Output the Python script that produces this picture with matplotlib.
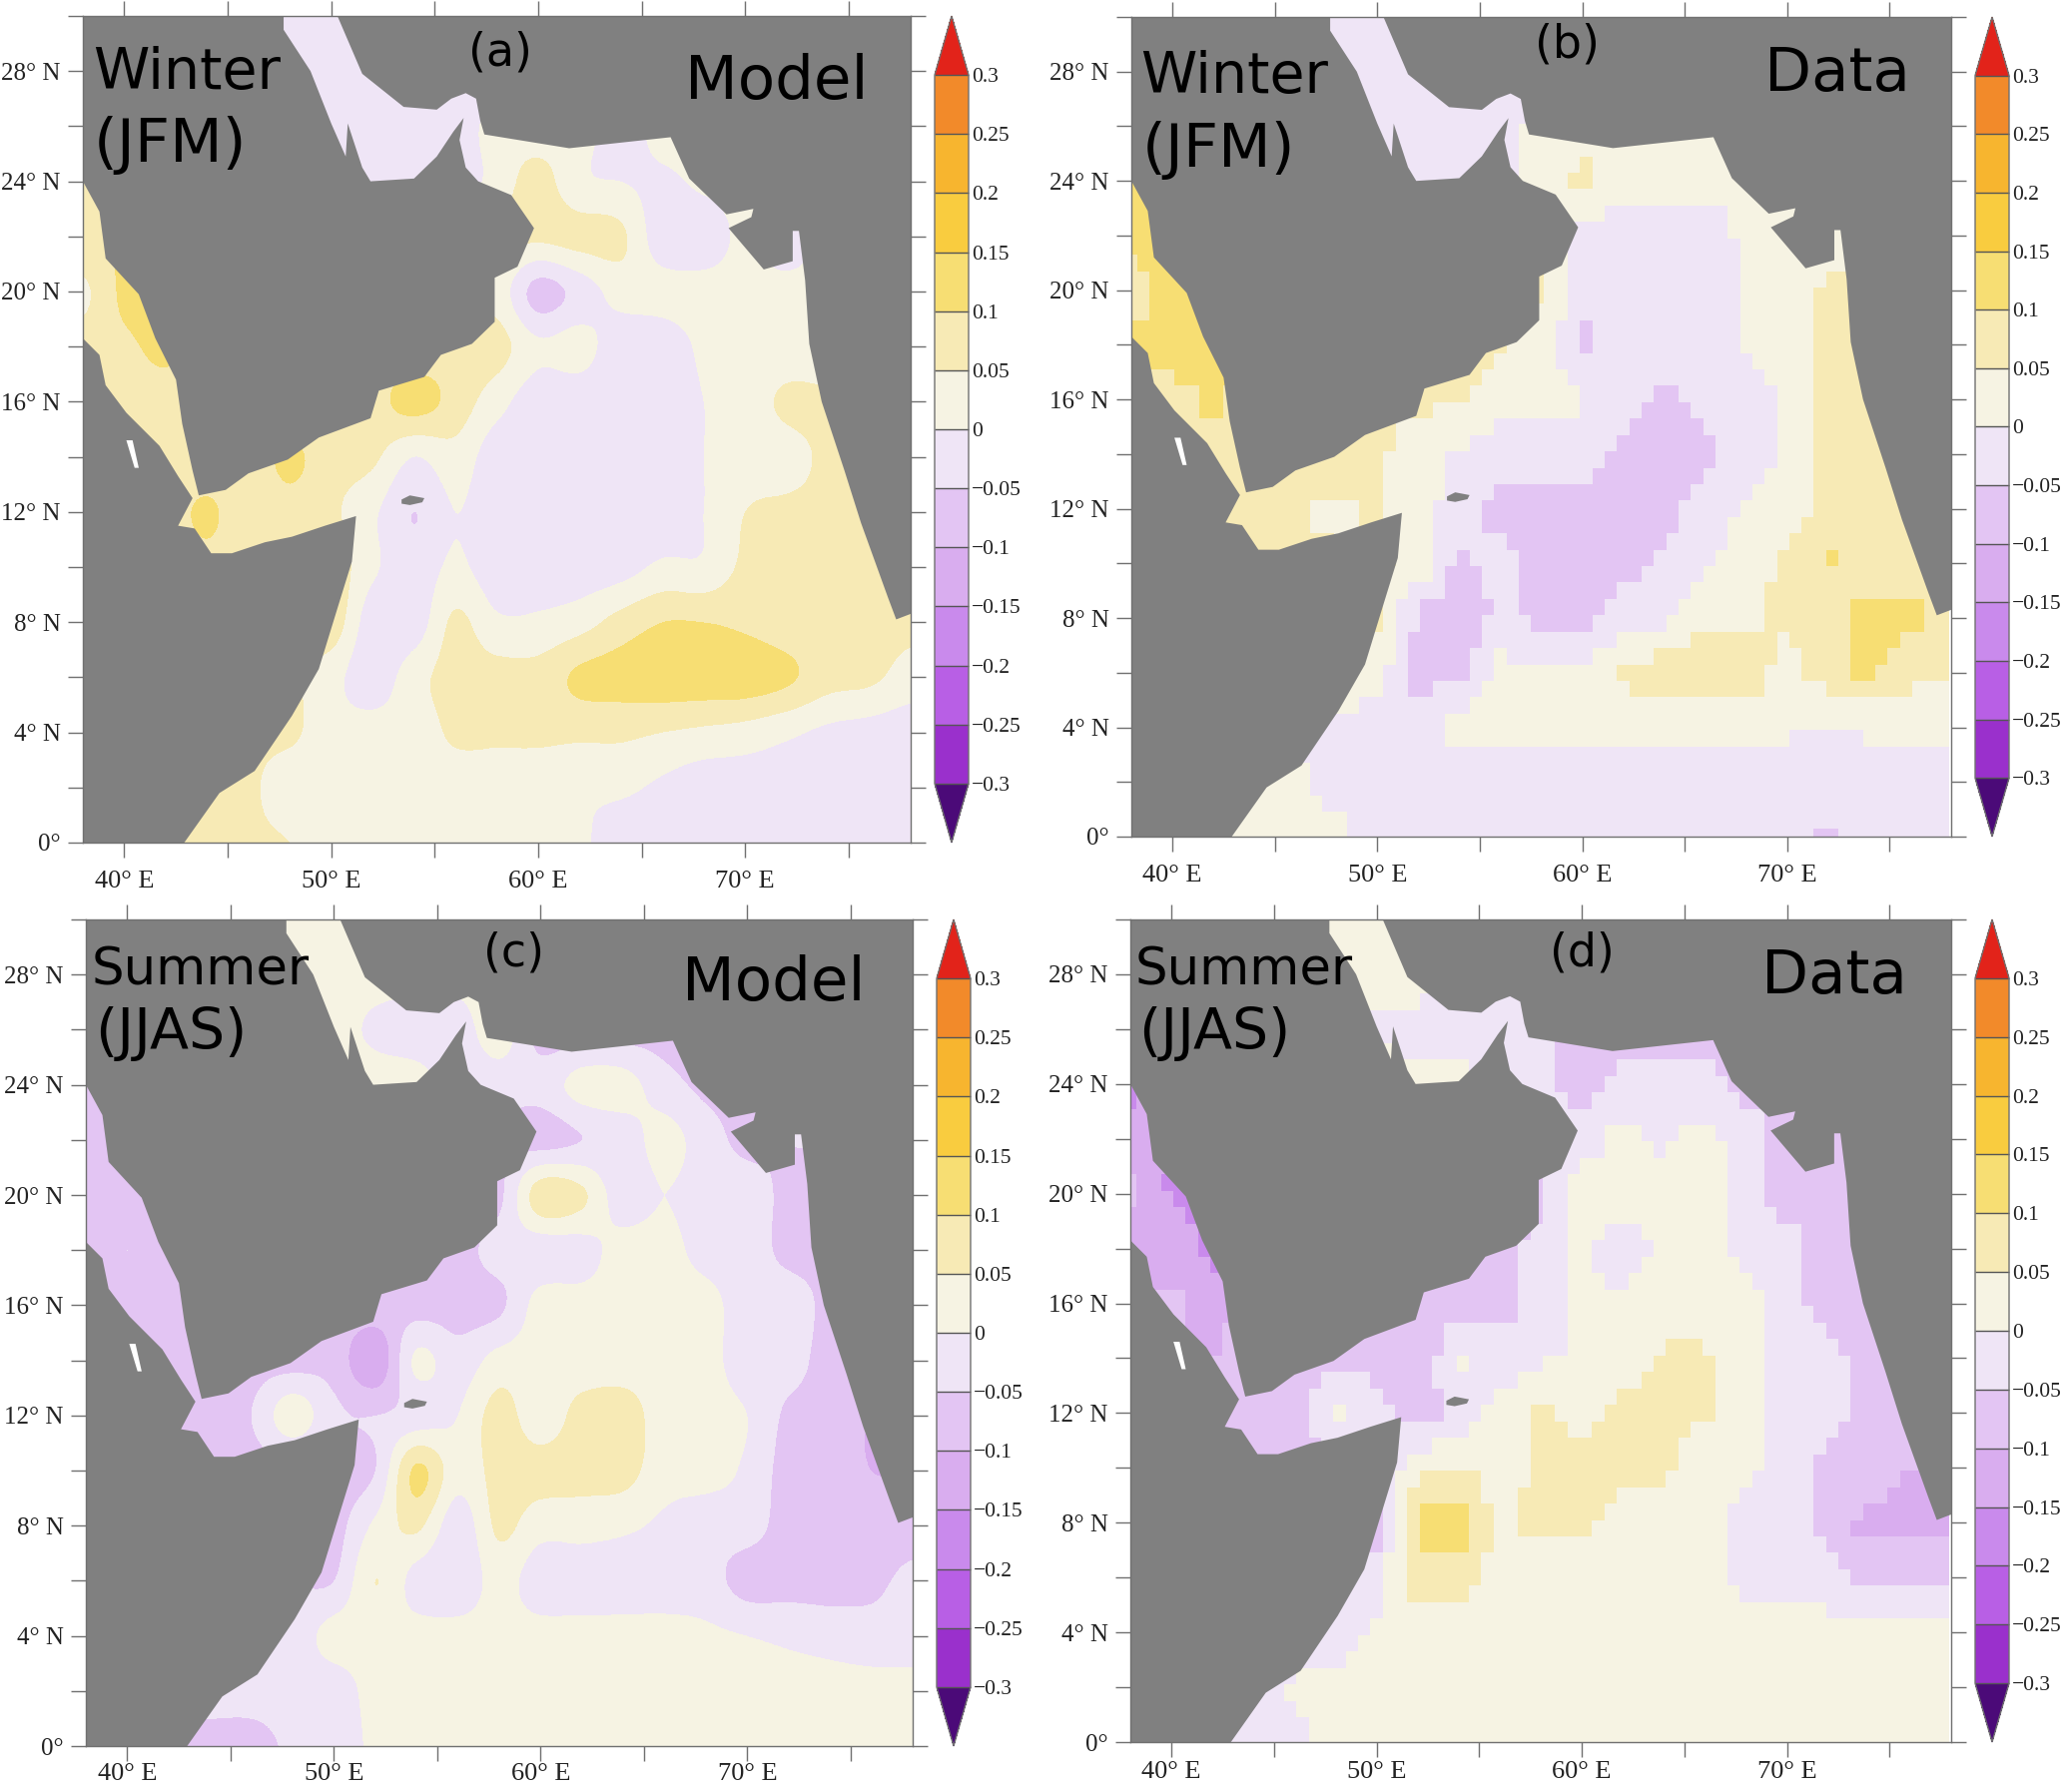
import numpy as np
import matplotlib
matplotlib.use('Agg')
import matplotlib.pyplot as plt
from matplotlib.colors import ListedColormap, BoundaryNorm
from matplotlib.cm import ScalarMappable

# grid of the fields, rows below run from 30N down to 0
lon = np.arange(38, 79, 2)
lat = np.arange(0, 31, 2)

# values in hundredths
winter_model = [
    [-3, -3, -3, -3, -3, -3, -4, -3, -3, -3, -3, 2, 2, 2, 2, 2, 2, 2, 2, 2, 2],
    [-3, -3, -3, -3, -3, -3, -3, -3, -3, -3, -3, 2, 2, 2, 2, 2, 2, 2, 2, 2, 2],
    [8, 8, 6, -3, -3, -3, -3, -3, -3, -3, 2, 2, 2, -2, 2, 2, 2, 2, 2, 2, 2],
    [8, 8, 6, 2, -3, -3, -3, -3, -3, -3, 2, 7, 1, 0, -1, 1, 2, 2, 2, 2, 2],
    [9, 10, 9, 6, 2, 2, 2, 2, 2, 2, 6, 6, 7, 6, -3, -3, 1, -3, 2, 2, 2],
    [4, 11, 11, 8, 6, 2, 2, 2, 2, 2, 3, -7, -3, 2, 2, 2, 2, 2, 2, 2, 2],
    [7, 9, 11, 8, 7, 6, 6, 6, 6, 7, 7, 1, 2, -3, -3, 1, 2, 2, 2, 2, 2],
    [6, 7, 8, 6, 6, 6, 6, 8, 12, 8, 2, -3, -3, -3, -3, 0, 2, 6, 6, 6, 6],
    [6, 6, 7, 6, 7, 11, 7, 6, 0, 3, -3, -3, -3, -3, -3, 0, 2, 3, 6, 6, 6],
    [6, 6, 7, 11, 6, 8, 6, 1, -5, 0, -3, -3, -3, -3, -3, 0, 5, 6, 6, 6, 6],
    [6, 6, 6, 8, 6, 6, 8, 1, -3, 1, -3, -3, -3, -2, 1, 1, 6, 6, 6, 6, 6],
    [6, 6, 6, 6, 6, 6, 8, -3, -3, 6, 1, 1, 3, 7, 10, 10, 9, 7, 6, 6, 6],
    [6, 6, 6, 6, 6, 6, 2, -3, 3, 7, 7, 7, 11, 12, 13, 13, 13, 11, 7, 6, 3],
    [6, 6, 6, 6, 6, 6, 2, 2, 2, 6, 6, 6, 6, 6, 5, 4, 3, 1, -1, -2, -3],
    [6, 6, 6, 6, 6, 2, 2, 2, 2, 2, 2, 2, 1, 1, -1, -3, -3, -3, -3, -3, -3],
    [6, 6, 6, 6, 6, 5, 2, 2, 2, 2, 2, 2, 1, -3, -3, -3, -3, -3, -3, -3, -3],
]
winter_data = [
    [-3, -3, -3, -3, -3, -5, -3, -3, -3, -3, -3, 2, 2, 2, 2, 2, 2, 2, 2, 2, 2],
    [-3, -3, -3, -3, -3, -3, -3, -3, -3, -3, -3, 2, 2, 2, 2, 2, 2, 2, 2, 2, 2],
    [12, 12, 6, -3, -3, -3, -3, -3, -3, -3, 2, 2, 2, 2, 2, 2, 2, 2, 2, 2, 2],
    [12, 12, 8, 2, -3, -3, -3, -3, -3, -3, 2, 7, 2, 2, 2, 2, 2, 2, 2, 2, 2],
    [12, 12, 12, 6, 2, 2, 2, 2, 2, 2, 2, -2, -3, -3, -3, 1, 2, 2, 2, 2, 2],
    [6, 13, 13, 8, 6, 2, 2, 2, 2, 2, 7, -4, -3, -3, -3, 1, 1, 6, 6, 6, 6],
    [12, 13, 13, 8, 6, 6, 6, 6, 6, 6, 2, -6, -3, -3, -3, 1, 1, 6, 6, 6, 6],
    [7, 7, 12, 6, 6, 6, 6, 6, 6, 2, 2, 1, -3, -6, -3, -3, 1, 6, 6, 6, 6],
    [6, 6, 7, 6, 6, 10, 6, 2, -1, -3, -3, -3, -6, -8, -7, -3, 1, 6, 6, 6, 6],
    [6, 6, 6, 6, 6, 3, 6, 2, -2, -7, -7, -7, -7, -7, -3, 1, 3, 6, 6, 10, 10],
    [6, 6, 6, 6, 6, 6, 6, 4, -6, -3, -7, -7, -7, -4, -1, 3, 6, 11, 6, 7, 7],
    [6, 6, 6, 6, 6, 6, 6, -6, -11, -3, -7, -7, -2, -1, 4, 4, 6, 7, 13, 12, 6],
    [3, 3, 3, 3, 3, 3, 3, -7, -6, 2, 1, 1, 6, 8, 8, 8, 3, 8, 11, 6, 6],
    [-1, -1, -1, -1, -1, -1, -3, -3, 2, 2, 2, 2, 2, 2, 2, 2, 1, -1, 1, 2, 2],
    [2, 2, 2, 2, 1, -2, -3, -3, -3, -3, -3, -3, -3, -3, -3, -3, -3, -3, -3, -3, -3],
    [2, 2, 2, 2, 2, 2, -3, -3, -3, -3, -3, -3, -3, -3, -3, -3, -3, -6, -3, -3, -3],
]
summer_model = [
    [2, 2, 2, 2, 2, 2, 2, 2, 2, 2, 2, -7, -7, -7, -7, -7, -7, -7, -7, -7, -7],
    [2, 2, 2, 2, 2, 2, 2, 2, 2, 2, 2, -7, -7, -7, -7, -7, -7, -7, -7, -7, -7],
    [-8, -8, -8, 2, 2, 2, 2, -1, -3, -3, 3, -7, -7, -7, -7, -7, -7, -7, -7, -7, -7],
    [-8, -8, -8, -7, 2, 2, 2, 2, 2, -3, -3, -3, 2, 2, -3, -6, -6, -6, -6, -6, -6],
    [-8, -9, -9, -7, -7, -3, -3, -3, -3, -3, -5, -7, -5, -3, 2, -3, -6, -5, -5, -5, -5],
    [-6, -9, -9, -9, -7, -7, -7, -7, -7, -7, -6, 8, 6, -3, 0, -3, -3, -6, -6, -6, -6],
    [-9, -5, -9, -9, -7, -7, -7, -7, -7, -7, -3, -3, -2, 2, 2, -2, -3, -6, -6, -6, -6],
    [-9, -9, -9, -7, -7, -7, -7, -7, -7, -7, -6, 2, 2, 2, 2, 2, -3, -3, -6, -6, -6],
    [-8, -8, -8, -7, -7, -7, -7, -14, 1, -3, 2, 2, 2, 2, 2, 2, -3, -3, -7, -7, -7],
    [-8, -8, -8, -7, -5, 3, -4, -5, -3, 0, 7, 2, 7, 8, 2, 2, 0, -6, -7, -10, -10],
    [-7, -7, -7, -7, -7, -7, -7, -5, 11, 2, 7, 7, 7, 7, 2, 2, -1, -7, -7, -10, -10],
    [-7, -7, -7, -7, -7, -7, -7, 1, 6, -3, 6, 2, 2, 1, -1, -3, -3, -7, -7, -7, -7],
    [-5, -5, -5, -5, -5, -5, -5, 5, -2, -4, 2, -3, -3, -3, -3, -3, -7, -7, -7, -6, -4],
    [-3, -3, -3, -3, -3, -3, 2, 2, 2, 2, 2, 2, 2, 2, 2, 1, 0, -1, -2, -3, -3],
    [-3, -3, -3, -3, -3, -3, -3, 2, 2, 2, 2, 2, 2, 2, 2, 2, 2, 2, 2, 2, 2],
    [-7, -7, -7, -7, -7, -4, -3, 1, 2, 2, 2, 2, 2, 2, 2, 2, 2, 2, 2, 2, 2],
]
summer_data = [
    [2, 2, 2, 2, 2, 2, 2, 2, 2, 2, 2, -7, -7, -7, -7, -7, -7, -7, -7, -7, -7],
    [2, 2, 2, 2, 2, 2, 2, 2, 2, -3, -3, -7, -7, -7, -7, -7, -7, -7, -7, -7, -7],
    [-16, -16, -16, 2, 2, 2, -1, -2, -3, -3, -3, -7, -7, -7, -7, -7, -7, -7, -7, -7, -7],
    [-16, -14, -14, -7, 2, 2, 2, 2, 2, -3, -3, -7, -3, -3, -3, -7, -7, -7, -7, -7, -7],
    [-14, -14, -14, -7, -7, -3, -3, -3, -3, -3, -3, -3, 2, -1, 2, -2, -7, -5, -5, -5, -5],
    [-9, -16, -16, -12, -7, -7, -7, -7, -7, -7, -7, 3, 2, 2, 2, -3, -7, -7, -7, -7, -7],
    [-12, -12, -17, -12, -7, -7, -7, -7, -7, -7, -3, 1, -3, 1, 2, -2, -3, -7, -7, -7, -7],
    [-9, -9, -12, -9, -7, -7, -7, -8, -7, -7, -3, 1, 1, 2, 2, 2, -3, -7, -7, -7, -7],
    [-10, -10, -10, -8, -7, -7, -7, -10, 1, -3, -1, 1, 3, 6, 6, 2, -3, -3, -7, -7, -7],
    [-7, -7, -7, -7, -7, 1, -3, -8, -3, 2, 6, 3, 6, 7, 6, 2, -3, -3, -6, -7, -7],
    [-7, -7, -7, -7, -7, -7, -7, 3, 6, 2, 6, 7, 7, 6, 1, 1, -2, -7, -7, -10, -10],
    [-7, -7, -7, -7, -7, -7, -7, 12, 13, 4, 7, 6, 3, 2, 2, -2, -3, -7, -12, -12, -10],
    [-3, -3, -3, -3, -3, -3, -3, 9, 8, 2, 2, 2, 2, 2, 2, -2, -3, -3, -7, -7, -7],
    [-3, -3, -3, -3, -3, -3, 1, 2, 2, 2, 2, 2, 2, 2, 2, 2, 2, 2, 2, 2, 2],
    [-3, -3, -3, -3, 1, 2, 2, 2, 2, 2, 2, 2, 2, 2, 2, 2, 2, 2, 2, 2, 2],
    [-3, -3, -3, -3, -2, 2, 2, 2, 2, 2, 2, 2, 2, 2, 2, 2, 2, 2, 2, 2, 2],
]

# coastlines
africa_lon = [38, 42.9, 44.6, 46.3, 48.1, 49.4, 50.3, 51, 51.2, 49.7, 48.1, 46.8, 45.2, 44.2, 43.4, 42.6, 43.3, 42.6, 41.7, 40.1, 39.1, 38.8, 38]
africa_lat = [0, 0, 1.8, 2.6, 4.6, 6.3, 8.5, 10.2, 11.85, 11.5, 11.1, 10.9, 10.5, 10.5, 11.4, 11.5, 12.5, 13.3, 14.4, 15.6, 16.6, 17.7, 18.3]
arabia_lon = [38, 38.8, 39.1, 40.7, 41.5, 42.5, 42.8, 43.3, 43.6, 44.9, 46, 47.9, 49.4, 51.9, 52.3, 54.5, 55.3, 56.8, 57.9, 57.9, 59, 59.8, 58.7, 57.1, 56.5, 56.2, 56.4, 55.9, 55.1, 54, 51.9, 51.5, 50.8, 50.7, 50, 49, 47.7, 47.7, 38]
arabia_lat = [24, 22.9, 21.2, 19.9, 18.3, 16.8, 15.2, 13.5, 12.6, 12.8, 13.4, 13.9, 14.7, 15.4, 16.4, 16.9, 17.7, 18.1, 18.9, 20.5, 20.9, 22.3, 23.5, 24, 24.5, 25.5, 26.3, 25.8, 24.9, 24.1, 24, 24.5, 26.1, 24.9, 26.1, 28, 29.5, 30, 30]
asia_lon = [50.3, 51.5, 53.5, 55.1, 55.8, 56.5, 57, 57.2, 57.4, 61.5, 66.4, 67.3, 69.1, 70.4, 70.3, 69.2, 70.9, 72.3, 72.3, 72.6, 72.9, 73.1, 73.7, 74.8, 75.6, 76.9, 77.3, 78, 78]
asia_lat = [30, 27.9, 26.7, 26.6, 27, 27.2, 27, 26.2, 25.7, 25.2, 25.6, 24.1, 22.8, 23, 22.7, 22.3, 20.8, 21.1, 22.2, 22.2, 20.4, 18.1, 16, 13.5, 11.6, 8.9, 8.1, 8.3, 30]
socotra_lon = [53.4, 53.8, 54.5, 54.4, 53.8, 53.4]
socotra_lat = [12.45, 12.6, 12.5, 12.35, 12.25, 12.3]
dahlak_lon = [40.1, 40.4, 40.7, 40.5]
dahlak_lat = [14.6, 14.6, 13.6, 13.6]

levels = [-0.3, -0.25, -0.2, -0.15, -0.1, -0.05, 0, 0.05, 0.1, 0.15, 0.2, 0.25, 0.3]
level_labels = ['\u22120.3', '\u22120.25', '\u22120.2', '\u22120.15', '\u22120.1', '\u22120.05', '0', '0.05', '0.1', '0.15', '0.2', '0.25', '0.3']
band_colors = ['#9A30CC', '#B85FE5', '#C98AEC', '#D9ADEF', '#E3C5F3', '#EFE5F6',
               '#F6F3E3', '#F7EAB5', '#F7DE73', '#F9CC3F', '#F7B52F', '#F28A2A']
cmap = ListedColormap(band_colors)
cmap.set_under('#4B0A78')
cmap.set_over('#E2231A')
norm = BoundaryNorm(levels, cmap.N)

W, H = 2067, 1795
LAND = '#808080'
EDGE = '#707070'
fig = plt.figure(figsize=(W / 100, H / 100), dpi=100)


def px_axes(x0, y0, x1, y1):
    return fig.add_axes([x0 / W, 1 - y1 / H, (x1 - x0) / W, (y1 - y0) / H])


def big_text(x, y, s, size):
    fig.text(x * 1.318 / W, 1 - (y + 2.5) * 1.318 / H, s, fontsize=size, ha='center', va='center',
             color='black', zorder=20)


def draw_panel(box, cbar_box, field, smooth, xpad):
    ax = px_axes(*box)
    z = np.array(field, dtype=float)[::-1] / 100
    if smooth:
        ax.imshow(z, origin='lower', extent=(37, 79, -1, 31), aspect='auto', cmap=cmap, norm=norm,
                  interpolation='catrom', interpolation_stage='data', zorder=1)
    else:
        # the data panels are blocky, half degree cells
        fine_lon = np.arange(38, 78.01, 0.6)
        fine_lat = np.arange(0, 30.01, 0.6)
        fine = np.array([np.interp(fine_lon, lon, row) for row in z])
        fine = np.array([np.interp(fine_lat, lat, col) for col in fine.T]).T
        ax.pcolormesh(fine_lon, fine_lat, fine, cmap=cmap, norm=norm, shading='nearest', zorder=1)

    ax.fill(africa_lon, africa_lat, color=LAND, lw=0, zorder=2)
    ax.fill(arabia_lon, arabia_lat, color=LAND, lw=0, zorder=2)
    ax.fill(asia_lon, asia_lat, color=LAND, lw=0, zorder=2)
    ax.fill(socotra_lon, socotra_lat, color=LAND, lw=0, zorder=2)
    ax.fill(dahlak_lon, dahlak_lat, color='white', lw=0, zorder=2)

    ax.set_xlim(38, 78)
    ax.set_ylim(0, 30)
    ax.set_xticks(np.arange(40, 76, 5))
    ax.set_xticklabels(['40\u00b0 E', '', '50\u00b0 E', '', '60\u00b0 E', '', '70\u00b0 E', ''])
    ax.set_yticks(np.arange(0, 31, 2))
    ax.set_yticklabels(['0\u00b0' if v == 0 else (f'{v}\u00b0 N' if v % 4 == 0 else '') for v in range(0, 31, 2)])
    ax.tick_params(axis='both', direction='out', length=11, width=1, color=EDGE, top=True, right=True,
                   labelcolor='#222222', labelfontfamily='Liberation Serif')
    ax.tick_params(axis='x', labelsize=19, pad=xpad)
    ax.tick_params(axis='y', labelsize=18, pad=5)
    for s in ax.spines.values():
        s.set_color(EDGE)
        s.set_linewidth(1)

    cax = px_axes(*cbar_box)
    cbar = fig.colorbar(ScalarMappable(norm=norm, cmap=cmap), cax=cax, extend='both', extendfrac=0.0833,
                        ticks=levels, drawedges=True, spacing='uniform')
    cbar.ax.set_yticklabels(level_labels)
    cbar.ax.tick_params(length=0, pad=2, labelsize=15.5, labelcolor='#222222', labelfontfamily='Liberation Serif')
    cbar.outline.set_edgecolor(EDGE)
    cbar.outline.set_linewidth(1)
    cbar.dividers.set_color('#555555')
    cbar.dividers.set_linewidth(1)
    return ax


draw_panel((83, 16, 912, 844), (936, 16, 970, 844), winter_model, True, 9)
draw_panel((1133, 17, 1954, 838), (1978, 17, 2012, 838), winter_data, False, 9)
draw_panel((86, 921, 914, 1749), (938, 921, 972, 1749), summer_model, True, 1)
draw_panel((1132, 921, 1954, 1745), (1978, 921, 2012, 1745), summer_data, False, 3)

big_text(142, 53, 'Winter', 41)
big_text(129, 108, '(JFM)', 44)
big_text(590, 60, 'Model', 44)
big_text(380, 38, '(a)', 33)
big_text(938, 56, 'Winter', 41)
big_text(926, 112, '(JFM)', 44)
big_text(1396, 54, 'Data', 44)
big_text(1191, 32, '(b)', 33)
big_text(152, 735, 'Summer', 37)
big_text(130, 783, '(JJAS)', 41)
big_text(588, 745, 'Model', 44)
big_text(390, 722, '(c)', 33)
big_text(945, 735, 'Summer', 37)
big_text(923, 783, '(JJAS)', 41)
big_text(1394, 740, 'Data', 44)
big_text(1202, 722, '(d)', 33)

fig.savefig('out.png', dpi=100)
